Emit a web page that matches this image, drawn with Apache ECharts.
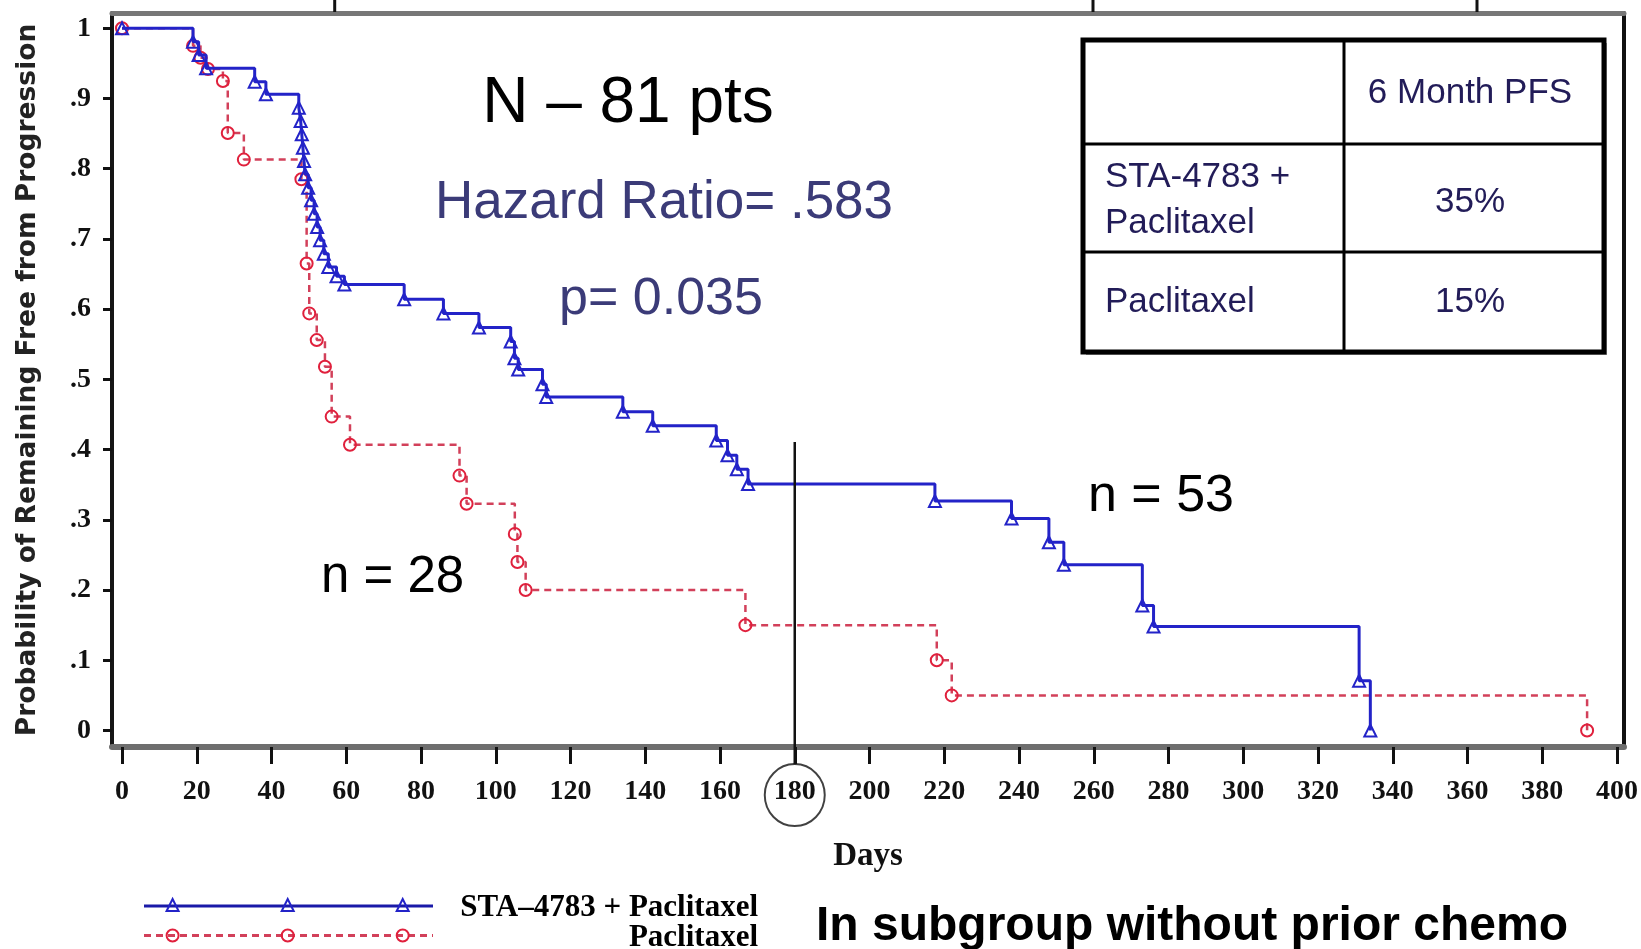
<!DOCTYPE html>
<html><head><meta charset="utf-8">
<script src="https://cdn.jsdelivr.net/npm/echarts@6/dist/echarts.min.js"></script>
<style>html,body{margin:0;padding:0;background:#fff}#c{width:1641px;height:949px}</style>
</head><body><div id="c"></div>
<script>
// ---- data ----
const xTicks = [0,20,40,60,80,100,120,140,160,180,200,220,240,260,280,300,320,340,360,380,400];
const yTicks = [0,0.1,0.2,0.3,0.4,0.5,0.6,0.7,0.8,0.9,1];
const seriesNames = ['STA\u20134783 + Paclitaxel', 'Paclitaxel'];
// STA-4783 + Paclitaxel (n = 53)
const comboDays = [0,19,20.5,22.5,35.5,38.5,47.3,47.8,48.1,48.4,48.7,49.0,49.8,50.6,51.4,52.2,53.0,54.0,55.2,57.4,59.5,75.5,86,95.5,104,105,106,112.5,113.5,134,142,159,162,164.5,167.5,217.5,238,248,252,273,276,331,334];
const comboSurv = [1.0,0.981,0.962,0.943,0.924,0.906,0.887,0.868,0.849,0.830,0.811,0.792,0.773,0.755,0.736,0.717,0.698,0.679,0.660,0.647,0.635,0.614,0.594,0.574,0.554,0.530,0.514,0.493,0.475,0.454,0.434,0.413,0.392,0.372,0.351,0.327,0.302,0.268,0.236,0.178,0.148,0.071,0.0];
// Paclitaxel (n = 28)
const paclDays = [0,19,21,23,27,28.3,32.6,48,49.4,50.1,52.1,54.3,56.1,61,90.3,92.2,105.1,105.8,108,166.8,218,222,392];
const paclSurv = [1.0,0.975,0.958,0.942,0.925,0.851,0.813,0.785,0.665,0.594,0.556,0.518,0.447,0.407,0.363,0.323,0.280,0.240,0.200,0.150,0.100,0.050,0.0];
const refDay = 180;
const refLineSpan = [0.411, -0.048];
const refCircleY = -0.092;
const tableHeader = '6 Month PFS';
const tableRowLabels = [['STA-4783 +', 'Paclitaxel'], ['Paclitaxel']];
const tablePFS = ['35%', '15%'];
const annotations = {total: 'N \u2013 81 pts', hazard: 'Hazard Ratio= .583', pval: 'p= 0.035', nPacl: 'n = 28', nCombo: 'n = 53'};
const subtitle = 'In subgroup without prior chemo';

// ---- build ----
const comboData = comboDays.map((d, i) => [d, comboSurv[i]]);
const paclData = paclDays.map((d, i) => [d, paclSurv[i]]);

const BLUE = '#2323c8', RED = '#e0203c', RED_LINE = '#d2405a';
const TXT_NAVY = '#221c58', TXT_SLATE = '#3b3b78';
const serifBold = 'bold 31px "Liberation Serif", "DejaVu Serif", serif';

function txt(x, y, text, font, fill, align) {
  return {type: 'text', x: x, y: y, z: 50,
    style: {text: text, font: font, fill: fill, align: align || 'center', verticalAlign: 'middle',
            textAlign: align || 'center', textVerticalAlign: 'middle'}};
}

const graphics = [];
// artifact tick marks above the frame
[334.7, 1093, 1477].forEach(x => graphics.push({type: 'line', z: 40, shape: {x1: x, y1: 0, x2: x, y2: 12}, style: {stroke: '#111', lineWidth: 3}}));
// table
graphics.push({type: 'rect', z: 30, shape: {x: 1086, y: 43, width: 521, height: 312}, style: {fill: '#9a9a9a'}});
graphics.push({type: 'rect', z: 31, shape: {x: 1083, y: 40, width: 521, height: 312}, style: {fill: '#fff', stroke: '#000', lineWidth: 5}});
graphics.push({type: 'line', z: 32, shape: {x1: 1344, y1: 40, x2: 1344, y2: 352}, style: {stroke: '#000', lineWidth: 3}});
graphics.push({type: 'line', z: 32, shape: {x1: 1083, y1: 144, x2: 1604, y2: 144}, style: {stroke: '#000', lineWidth: 3}});
graphics.push({type: 'line', z: 32, shape: {x1: 1083, y1: 252, x2: 1604, y2: 252}, style: {stroke: '#000', lineWidth: 3}});
const tFont = '35px "Liberation Sans", Arial, sans-serif';
graphics.push(txt(1470, 93, tableHeader, tFont, TXT_NAVY));
graphics.push(txt(1105, 177, tableRowLabels[0][0], tFont, TXT_NAVY, 'left'));
graphics.push(txt(1105, 223, tableRowLabels[0][1], tFont, TXT_NAVY, 'left'));
graphics.push(txt(1470, 202, tablePFS[0], tFont, TXT_NAVY));
graphics.push(txt(1105, 302, tableRowLabels[1][0], tFont, TXT_NAVY, 'left'));
graphics.push(txt(1470, 302, tablePFS[1], tFont, TXT_NAVY));
// annotations
graphics.push(txt(628, 104, annotations.total, '64px "Liberation Sans", Arial, sans-serif', '#000'));
graphics.push(txt(664, 203, annotations.hazard, '53px "Liberation Sans", Arial, sans-serif', TXT_SLATE));
graphics.push(txt(661, 300, annotations.pval, '52px "Liberation Sans", Arial, sans-serif', TXT_SLATE));
graphics.push(txt(321, 578, annotations.nPacl, '51px "Liberation Sans", Arial, sans-serif', '#000', 'left'));
graphics.push(txt(1088, 497, annotations.nCombo, '52px "Liberation Sans", Arial, sans-serif', '#000', 'left'));
graphics.push(txt(816, 927, subtitle, 'bold 48px "Liberation Sans", Arial, sans-serif', '#000', 'left'));
// legend
const legX = [172.6, 287.7, 402.7];
graphics.push({type: 'line', z: 40, shape: {x1: 144, y1: 906, x2: 433, y2: 906}, style: {stroke: '#1a1aa8', lineWidth: 3}});
graphics.push({type: 'line', z: 40, shape: {x1: 144, y1: 935.5, x2: 433, y2: 935.5}, style: {stroke: RED_LINE, lineWidth: 3, lineDash: [7, 5]}});
legX.forEach(x => {
  graphics.push({type: 'polygon', z: 41, shape: {points: [[x, 899], [x - 6, 911], [x + 6, 911]]}, style: {fill: 'rgba(0,0,0,0)', stroke: BLUE, lineWidth: 2}});
  graphics.push({type: 'circle', z: 41, shape: {cx: x, cy: 935.5, r: 6}, style: {fill: 'rgba(0,0,0,0)', stroke: RED, lineWidth: 2}});
});
graphics.push(txt(758, 908, seriesNames[0], serifBold, '#000', 'right'));
graphics.push(txt(758, 938, seriesNames[1], serifBold, '#000', 'right'));

const xMin = -2.676, xMax = 401.87, yMin = -0.0235, yMax = 1.0218;
const labelFont = {fontFamily: '"Liberation Serif", "DejaVu Serif", serif', fontWeight: 'bold', fontSize: 28, color: '#111'};

const chart = echarts.init(document.getElementById('c'), null, {renderer: 'canvas'});
chart.setOption({
  animation: false,
  backgroundColor: '#fff',
  grid: {left: 112, right: 17, top: 13, bottom: 202, containLabel: false},
  xAxis: [{
    type: 'value', position: 'bottom', min: xMin, max: xMax,
    name: 'Days', nameLocation: 'middle', nameGap: 93,
    nameTextStyle: {fontFamily: '"Liberation Serif", serif', fontWeight: 'bold', fontSize: 33, color: '#111'},
    axisLine: {show: true, onZero: false, lineStyle: {color: '#6e6e6e', width: 6}},
    axisTick: {show: true, length: 17, customValues: xTicks, lineStyle: {color: '#111', width: 3}},
    axisLabel: Object.assign({customValues: xTicks, margin: 31}, labelFont),
    splitLine: {show: false}
  }, {
    type: 'value', position: 'top', min: xMin, max: xMax,
    axisLine: {show: true, onZero: false, lineStyle: {color: '#777', width: 5}},
    axisTick: {show: false}, axisLabel: {show: false}, splitLine: {show: false}
  }],
  yAxis: [{
    type: 'value', position: 'left', min: yMin, max: yMax,
    name: 'Probability of Remaining Free from Progression', nameLocation: 'middle', nameGap: 70, nameRotate: 90,
    nameTextStyle: {fontFamily: '"DejaVu Sans", sans-serif', fontWeight: 'bold', fontSize: 26.5, color: '#222'},
    axisLine: {show: true, onZero: false, lineStyle: {color: '#151515', width: 4}},
    axisTick: {show: true, length: 9, customValues: yTicks, lineStyle: {color: '#111', width: 3}},
    axisLabel: Object.assign({customValues: yTicks, margin: 21,
      formatter: v => v === 0 ? '0' : (v === 1 ? '1' : '.' + Math.round(v * 10))}, labelFont),
    splitLine: {show: false}
  }, {
    type: 'value', position: 'right', min: yMin, max: yMax,
    axisLine: {show: true, onZero: false, lineStyle: {color: '#111', width: 4}},
    axisTick: {show: false}, axisLabel: {show: false}, splitLine: {show: false}
  }],
  series: [{
    name: seriesNames[1], type: 'line', step: 'end', data: paclData,
    xAxisIndex: 0, yAxisIndex: 0, z: 3,
    symbol: 'circle', symbolSize: 12, showAllSymbol: true,
    lineStyle: {color: RED_LINE, width: 2.5, type: [7, 5]},
    itemStyle: {color: 'rgba(0,0,0,0)', borderColor: RED, borderWidth: 2}
  }, {
    name: seriesNames[0], type: 'line', step: 'end', data: comboData,
    xAxisIndex: 0, yAxisIndex: 0, z: 4,
    symbol: 'triangle', symbolSize: 12, showAllSymbol: true,
    lineStyle: {color: BLUE, width: 3},
    itemStyle: {color: 'rgba(0,0,0,0)', borderColor: BLUE, borderWidth: 2}
  }, {
    name: 'ref', type: 'line', data: refLineSpan.map(v => [refDay, v]), clip: false,
    xAxisIndex: 0, yAxisIndex: 0, z: 5, symbol: 'none',
    lineStyle: {color: '#111', width: 2.5}
  }, {
    name: 'refCircle', type: 'scatter', data: [[refDay, refCircleY]], clip: false,
    xAxisIndex: 0, yAxisIndex: 0, z: 5, symbol: 'circle', symbolSize: [60, 62],
    itemStyle: {color: 'rgba(0,0,0,0)', borderColor: '#111', borderWidth: 2}
  }],
  graphic: graphics
});
</script></body></html>
